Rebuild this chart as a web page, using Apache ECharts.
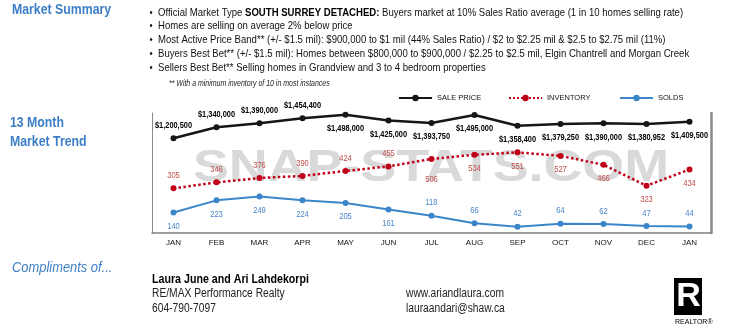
<!DOCTYPE html>
<html>
<head>
<meta charset="utf-8">
<script src="https://cdn.jsdelivr.net/npm/echarts@6/dist/echarts.min.js"></script>
<style>
html,body{margin:0;padding:0;background:#fff;}
#chart{width:733px;height:334px;}
</style>
</head>
<body>
<div id="chart"></div>
<script>
// ---- data ----
const months = ['JAN','FEB','MAR','APR','MAY','JUN','JUL','AUG','SEP','OCT','NOV','DEC','JAN'];
const salePrice = [1200500,1340000,1390000,1454400,1498000,1425000,1393750,1495000,1358400,1379250,1390000,1380952,1409500];
const inventory = [305,346,376,390,424,455,506,534,551,527,466,323,434];
const solds = [140,223,249,224,205,161,118,66,42,64,62,47,44];

// label placement (styling)
const pricePos = ['top','top','top','top','bottom','bottom','bottom','bottom','bottom','bottom','bottom','bottom','bottom'];
const invPos   = ['top','top','top','top','top','top','bottom','bottom','bottom','bottom','bottom','bottom','bottom'];
const soldPos  = ['bottom','bottom','bottom','bottom','bottom','bottom','top','top','top','top','top','top','top'];

const SANS = "'Liberation Sans',Arial,sans-serif";
const NX = 0.82; // horizontal squeeze to imitate a narrow face
const BLUE = '#3d7fc6';

const chart = echarts.init(document.getElementById('chart'), null, {renderer:'canvas'});

// value labels drawn through the axes' own coordinate mapping
function labelSeries(vals, pos, yAxisIndex, opts) {
  return {
    type: 'custom', yAxisIndex: yAxisIndex, z: 5, silent: true, clip: false,
    encode: {x: 0, y: 1},
    data: vals.map((v, i) => [i, v]),
    renderItem: function (params, api) {
      const i = api.value(0);
      const pt = api.coord([i, api.value(1)]);
      let dy = pos[i] === 'top' ? opts.up : opts.down;
      if (opts.extra && opts.extra[i]) dy += opts.extra[i];
      const style = {
        text: opts.fmt(vals[i]), x: 0, y: 0,
        textAlign: 'center', textVerticalAlign: 'middle',
        font: opts.font, fill: opts.color
      };
      if (opts.bg && opts.bg[i]) { style.backgroundColor = '#fff'; style.padding = [6, 2]; }
      return {type: 'text', x: pt[0], y: pt[1] + dy, scaleX: opts.sx, style: style};
    }
  };
}

function txt(x, y, text, font, fill, extra, sx) {
  return {type: 'text', x: x, y: y, scaleX: sx || NX,
    style: Object.assign({text: text, x: 0, y: 0, font: font, fill: fill, textVerticalAlign: 'middle'}, (extra || {}))};
}

const bullets = [
  'Official Market Type {b|SOUTH SURREY DETACHED:} Buyers market at 10% Sales Ratio average (1 in 10 homes selling rate)',
  'Homes are selling on average 2% below price',
  'Most Active Price Band** (+/- $1.5 mil): $900,000 to $1 mil (44% Sales Ratio) / $2 to $2.25 mil & $2.5 to $2.75 mil (11%)',
  'Buyers Best Bet** (+/- $1.5 mil): Homes between $800,000 to $900,000 / $2.25 to $2.5 mil, Elgin Chantrell and Morgan Creek',
  'Sellers Best Bet** Selling homes in Grandview and 3 to 4 bedroom properties'
];

const option = {
  animation: false,
  backgroundColor: '#fff',
  grid: {left: 152, right: 22, top: 113, bottom: 101, containLabel: false},
  legend: [
    {data: ['SALE PRICE'], left: 398, top: 94},
    {data: ['INVENTORY'], left: 508, top: 94},
    {data: ['SOLDS'], left: 619, top: 94}
  ].map(l => Object.assign(l, {
    itemWidth: 33, itemHeight: 8, padding: 0,
    textStyle: {fontFamily: SANS, fontSize: 7.5, color: '#111'}
  })),
  xAxis: {
    type: 'category',
    data: months,
    boundaryGap: true,
    axisLine: {show: true, lineStyle: {color: '#7f7f7f', width: 1.5}},
    axisTick: {show: false},
    axisLabel: {fontFamily: SANS, fontSize: 8, color: '#111', margin: 6, interval: 0},
    splitLine: {show: false}
  },
  yAxis: [
    {type: 'value', min: 0, max: 1520000, position: 'left',
     axisLine: {show: true, lineStyle: {color: '#8a8a8a', width: 1}},
     axisLabel: {show: false}, axisTick: {show: false}, splitLine: {show: false}},
    {type: 'value', min: 0, max: 820, position: 'right',
     axisLine: {show: true, lineStyle: {color: '#8a8a8a', width: 2.5}},
     axisLabel: {show: false}, axisTick: {show: false}, splitLine: {show: false}}
  ],
  graphic: [
    {type: 'text', z: 0, x: 193, y: 169, scaleX: 1.195,
     style: {text: 'SNAP-STATS.COM', x: 0, y: 0, fill: '#d9d9d9',
             font: "bold 45px " + SANS, textAlign: 'left', textVerticalAlign: 'middle'}},
    txt(12, 10, 'Market Summary', 'bold 15px ' + SANS, BLUE),
    txt(10, 123, '13 Month', 'bold 15px ' + SANS, BLUE),
    txt(10, 142, 'Market Trend', 'bold 15px ' + SANS, BLUE),
    ...bullets.flatMap((t, i) => [
      txt(149.5, 12.5 + i * 13.9, '\u2022', '11px ' + SANS, '#111'),
      txt(158, 12.5 + i * 13.9, t, '11px ' + SANS, '#111',
          {rich: {b: {fontWeight: 'bold', fontFamily: SANS, fontSize: 11, fill: '#000'}}}, 0.87)
    ]),
    txt(169, 83.5, '** With a minimum inventory of 10 in most instances', 'italic 8.5px ' + SANS, '#222'),
    txt(12, 268, 'Compliments of...', 'italic 15px ' + SANS, BLUE, null, 0.86),
    txt(152, 279.5, 'Laura June and Ari Lahdekorpi', 'bold 13px ' + SANS, '#000'),
    txt(152, 293.5, 'RE/MAX Performance Realty', '12.5px ' + SANS, '#222'),
    txt(152, 308.5, '604-790-7097', '12.5px ' + SANS, '#222'),
    txt(406, 293.5, 'www.ariandlaura.com', '12.5px ' + SANS, '#222'),
    txt(406, 308.5, 'lauraandari@shaw.ca', '12.5px ' + SANS, '#222'),
    {type: 'rect', shape: {x: 674, y: 278, width: 28, height: 37}, style: {fill: '#000'}},
    {type: 'text', x: 688.5, y: 297,
     style: {text: 'R', fill: '#fff', font: "bold 34px " + SANS, textAlign: 'center', textVerticalAlign: 'middle'}},
    {type: 'text', x: 675, y: 322,
     style: {text: 'REALTOR\u00ae', fill: '#000', font: "7px " + SANS, textVerticalAlign: 'middle'}}
  ],
  series: [
    {
      name: 'SALE PRICE', type: 'line', yAxisIndex: 0, z: 3,
      data: salePrice,
      symbol: 'circle', symbolSize: 6,
      itemStyle: {color: '#161616'},
      lineStyle: {color: '#161616', width: 2.5}
    },
    {
      name: 'INVENTORY', type: 'line', yAxisIndex: 1, z: 3,
      data: inventory,
      symbol: 'circle', symbolSize: 6,
      itemStyle: {color: '#c00018'},
      lineStyle: {color: '#c00018', width: 2.5, type: 'dotted'}
    },
    {
      name: 'SOLDS', type: 'line', yAxisIndex: 1, z: 3,
      data: solds,
      symbol: 'circle', symbolSize: 6,
      itemStyle: {color: '#3a86c8'},
      lineStyle: {color: '#3a86c8', width: 2}
    },
    labelSeries(salePrice, pricePos, 0, {
      up: -12.6, down: 14, sx: 0.87, font: 'bold 8.5px ' + SANS, color: '#000',
      fmt: v => '$' + v.toLocaleString('en-US'), bg: {12: true}
    }),
    labelSeries(inventory, invPos, 1, {
      up: -12.6, down: 13.8, sx: 0.8, font: '9.5px ' + SANS, color: '#c0504d',
      fmt: v => String(v), extra: {6: 7}
    }),
    labelSeries(solds, soldPos, 1, {
      up: -13, down: 13.8, sx: 0.8, font: '9.5px ' + SANS, color: '#4a86c8',
      fmt: v => String(v)
    })
  ]
};
chart.setOption(option);
</script>
</body>
</html>
